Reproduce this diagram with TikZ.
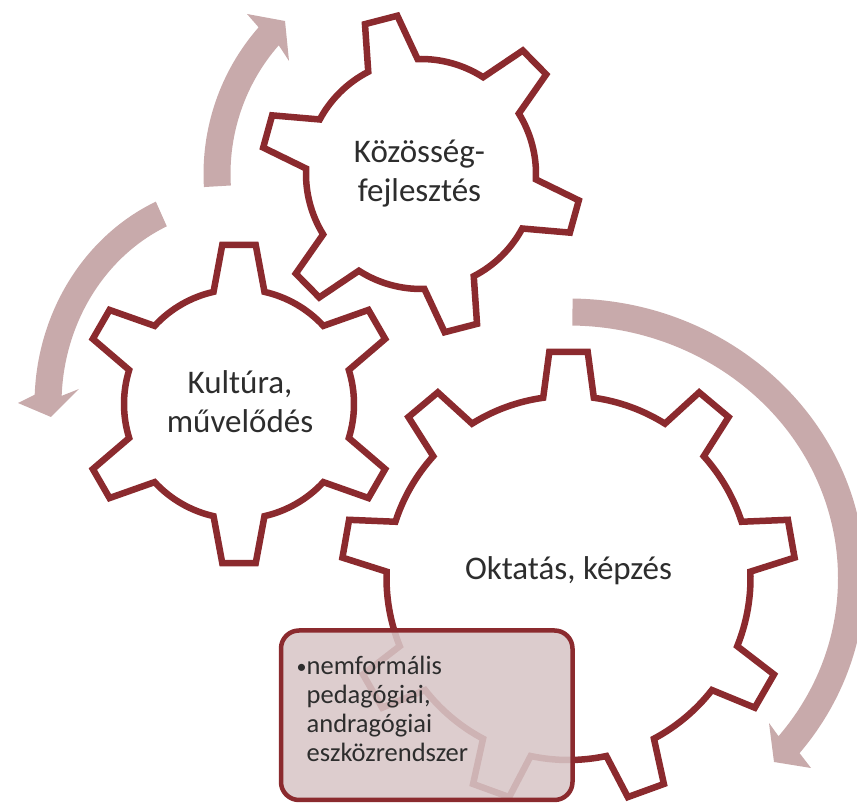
\documentclass[tikz,border=0pt]{standalone}
\usepackage{fontspec}
\setmainfont{Carlito}
\usetikzlibrary{calc}
\definecolor{gearred}{RGB}{139,42,46}
\definecolor{arrowpink}{RGB}{200,170,171}
\definecolor{boxfill}{RGB}{216,198,199}
\definecolor{txtgray}{RGB}{45,45,45}
\tikzset{
  gearline/.style={draw=gearred, line width=6.5pt, fill=white, line join=miter},
  arrowshape/.style={fill=arrowpink, draw=none},
  notebox/.style={draw=gearred, line width=4.5pt, fill=boxfill, fill opacity=0.88, rounded corners=18pt},
  gearlabel/.style={font=\fontsize{33}{38.5}\selectfont, text=txtgray, inner sep=0pt},
  notelabel/.style={font=\fontsize{26.5}{29}\selectfont, text=txtgray, inner sep=0pt}
}
% #1 centre, #2 teeth, #3 first tooth angle, #4 tip radius, #5 body radius, #6 tip half angle, #7 root half angle
\newcommand{\drawgear}[7]{%
  \draw[gearline] ($(#1)+({#3-#7}:#5)$)
    \foreach \k [evaluate=\k as \gA using #3+(\k-1)*360/#2,
                 evaluate=\k as \gS using #3+(\k-1)*360/#2+#7,
                 evaluate=\k as \gE using #3+\k*360/#2-#7] in {1,...,#2}{
      -- ($(#1)+({\gA-#6}:#4)$) -- ($(#1)+({\gA+#6}:#4)$) -- ($(#1)+(\gS:#5)$)
      arc[start angle=\gS, end angle=\gE, radius=#5]
    } -- cycle;}
\begin{document}
\begin{tikzpicture}[x=1pt,y=1pt]
\useasboundingbox (0,0) rectangle (857,803);
\coordinate (L) at (239,399);
\coordinate (T) at (421,629);
\coordinate (B) at (568.5,225);

% arrows
\fill[arrowshape] ($(T)+(183.4:217.5 and 220.5)$)
  arc[start angle=183.4, end angle=138.3, x radius=217.5, y radius=220.5]
  -- (247,789) -- (285,782) -- (289,742)
  -- ($(T)+(138.3:190.5 and 193.5)$)
  arc[start angle=138.3, end angle=183.4, x radius=190.5, y radius=193.5] -- cycle;
\fill[arrowshape] ($(L)+(114:204.5 and 221.5)$)
  arc[start angle=114, end angle=177.6, x radius=204.5, y radius=221.5]
  -- (18,400) -- (51,386) -- (79,414)
  -- ($(L)+(177.6:177.5 and 194.5)$)
  arc[start angle=177.6, end angle=114, x radius=177.5, y radius=194.5] -- cycle;
\fill[arrowshape] ($(B)+(89.2:296.5 and 279.5)$)
  arc[start angle=89.2, end angle=-38.8, x radius=296.5, y radius=279.5]
  -- (811,35) -- (774,41) -- (769,80)
  -- ($(B)+(-38.8:269.5 and 252.5)$)
  arc[start angle=-38.8, end angle=89.2, x radius=269.5, y radius=252.5] -- cycle;

% gears
\drawgear{L}{6}{90}{160}{115}{6}{12.8}
\drawgear{T}{6}{104.5}{160}{115}{6}{12.8}
\drawgear{B}{9}{90}{227}{182}{4.85}{8}

% labels
\node[gearlabel, anchor=base] (tlabel) at (419.5,640)
  {\begin{tabular}[t]{@{}c@{}}Közösség-\\fejlesztés\end{tabular}};
\node[gearlabel, anchor=base] (llabel) at (240,409)
  {\begin{tabular}[t]{@{}c@{}}Kultúra,\\művelődés\end{tabular}};
\node[gearlabel, anchor=base] (blabel) at (568.5,223) {Oktatás, képzés};

% note box
\draw[notebox] (281,3) rectangle (572.5,172.5);
\node[notelabel, anchor=base west] (nlabel) at (306.5,128)
  {\begin{tabular}[t]{@{}l@{}}\llap{\raisebox{1pt}{\fontsize{20}{20}\selectfont •}}nemformális\\pedagógiai,\\andragógiai\\eszközrendszer\end{tabular}};
\end{tikzpicture}
\end{document}
